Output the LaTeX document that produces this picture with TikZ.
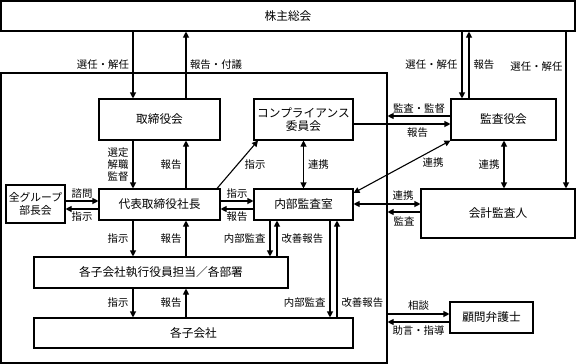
\documentclass[tikz,border=0pt]{standalone}
\usepackage{fontspec}
\setmainfont{Noto Sans CJK JP}
\usetikzlibrary{arrows.meta}

\begin{document}
\begin{tikzpicture}[
x=1pt, y=-1pt,
line width=1.1pt,
every node/.style={inner sep=0pt},
box/.style={draw, font=\fontsize{11.7}{13.5}\selectfont, align=center},
lbl/.style={font=\fontsize{10.4}{11.6}\selectfont, align=center},
arr/.style={-{Triangle[length=6pt,width=6pt]}},
darr/.style={{Triangle[length=6pt,width=6pt]}-{Triangle[length=6pt,width=6pt]}}
]
\useasboundingbox (0,0) rectangle (576,364);

% boxes
\node[box, minimum width=574pt, minimum height=30pt] (kabunushi) at (288,16) {株主総会};
\node[draw, minimum width=386pt, minimum height=290pt] (company) at (194,218) {};
\node[box, minimum width=121pt, minimum height=41pt] (torishimari) at (159.5,119.5) {取締役会};
\node[box, minimum width=99pt, minimum height=41pt] (compliance) at (303.5,119.5) {コンプライアンス\\委員会};
\node[box, minimum width=105pt, minimum height=41pt] (kansayaku) at (503.5,119.5) {監査役会};
\node[box, minimum width=121pt, minimum height=31pt] (daihyo) at (159.5,204.5) {代表取締役社長};
\node[box, minimum width=99pt, minimum height=31pt] (naibu) at (303.5,204.5) {内部監査室};
\node[box, font=\fontsize{10.8}{12.5}\selectfont, minimum width=59pt, minimum height=38pt] (group) at (35.5,204) {全グループ\\部長会};
\node[box, minimum width=154pt, minimum height=49pt] (kaikei) at (498,213.5) {会計監査人};
\node[box, minimum width=254pt, minimum height=31pt] (shikko) at (161,272.5) {各子会社執行役員担当／各部署};
\node[box, minimum width=319pt, minimum height=30pt] (kogaisha) at (193.5,333) {各子会社};
\node[box, minimum width=83pt, minimum height=31pt] (bengoshi) at (491.5,317.5) {顧問弁護士};

% shareholders
\draw[arr] (kabunushi.south -| 133,0) -- (torishimari.north -| 133,0)
  node[lbl, midway, left=3.5pt] (l-senin1) {選任・解任};
\draw[arr] (torishimari.north -| 186,0) -- (kabunushi.south -| 186,0)
  node[lbl, midway, right=3.5pt] (l-fugi) {報告・付議};
\draw[arr] (kabunushi.south -| 462,0) -- (kansayaku.north -| 462,0)
  node[lbl, midway, left=4pt] (l-senin2) {選任・解任};
\draw[arr] (kansayaku.north -| 469,0) -- (kabunushi.south -| 469,0)
  node[lbl, midway, right=4pt] (l-hokoku1) {報告};
\draw[arr] (kabunushi.south -| 566,0) -- (kaikei.north -| 566,0)
  node[lbl, pos=0.22, left=3pt] (l-senin3) {選任・解任};

% audit board
\draw[arr] (kansayaku.west |- 0,116) -- (company.east |- 0,116)
  node[lbl, midway, above=2pt] (l-kantoku) {監査・監督};
\draw[arr] (compliance.east |- 0,124) -- (kansayaku.west |- 0,124)
  node[lbl, pos=0.66, below=3pt] (l-hokoku2) {報告};
\draw[darr] (naibu.east |- 0,193) -- (kansayaku.south west);
\node[lbl] (l-renkei1) at (433,163) {連携};
\draw[darr] (kansayaku.south -| 504,0) -- (kaikei.north -| 504,0)
  node[lbl, midway, left=4pt] (l-renkei2) {連携};

% board and president
\draw[arr] (torishimari.south -| 133,0) -- (daihyo.north -| 133,0)
  node[lbl, midway, left=4pt] (l-sentei) {選定\\解職\\監督};
\draw[arr] (daihyo.north -| 186,0) -- (torishimari.south -| 186,0)
  node[lbl, midway, left=4pt] (l-hokoku3) {報告};
\draw[arr] (daihyo.north -| 217,0) -- (compliance.south -| 258,0);
\node[lbl] (l-shiji1) at (255,165) {指示};
\draw[darr] (compliance.south) -- (naibu.north)
  node[lbl, midway, right=4pt] (l-renkei3) {連携};

% president row
\draw[arr] (group.east |- 0,201) -- (daihyo.west |- 0,201)
  node[lbl, midway, above=2pt] (l-shimon) {諮問};
\draw[arr] (daihyo.west |- 0,209) -- (group.east |- 0,209)
  node[lbl, midway, below=2.5pt] (l-shiji2) {指示};
\draw[arr] (daihyo.east |- 0,201) -- (naibu.west |- 0,201)
  node[lbl, midway, above=2pt] (l-shiji3) {指示};
\draw[arr] (naibu.west |- 0,209) -- (daihyo.east |- 0,209)
  node[lbl, midway, below=2.5pt] (l-hokoku4) {報告};
\draw[darr] (naibu.east |- 0,204) -- (kaikei.west |- 0,204)
  node[lbl, pos=0.74, above=3pt] (l-renkei4) {連携};
\draw[arr] (kaikei.west |- 0,212) -- (company.east |- 0,212)
  node[lbl, midway, below=4pt] (l-kansa) {監査};

% down to departments
\draw[arr] (daihyo.south -| 133,0) -- (shikko.north -| 133,0)
  node[lbl, midway, left=4pt] (l-shiji4) {指示};
\draw[arr] (shikko.north -| 186,0) -- (daihyo.south -| 186,0)
  node[lbl, midway, left=4pt] (l-hokoku5) {報告};
\draw[arr] (naibu.south -| 270,0) -- (shikko.north -| 270,0)
  node[lbl, midway, left=4pt] (l-naibu1) {内部監査};
\draw[arr] (shikko.north -| 277,0) -- (naibu.south -| 277,0)
  node[lbl, midway, right=4pt] (l-kaizen1) {改善報告};

% subsidiaries
\draw[arr] (shikko.south -| 133,0) -- (kogaisha.north -| 133,0)
  node[lbl, midway, left=4pt] (l-shiji5) {指示};
\draw[arr] (kogaisha.north -| 186,0) -- (shikko.south -| 186,0)
  node[lbl, midway, left=4pt] (l-hokoku6) {報告};
\draw[arr] (naibu.south -| 330,0) -- (kogaisha.north -| 330,0)
  node[lbl, pos=0.85, left=4pt] (l-naibu2) {内部監査};
\draw[arr] (kogaisha.north -| 337,0) -- (naibu.south -| 337,0)
  node[lbl, pos=0.15, right=4pt] (l-kaizen2) {改善報告};

% lawyer
\draw[arr] (company.east |- 0,314) -- (bengoshi.west |- 0,314)
  node[lbl, midway, above=3pt] (l-sodan) {相談};
\draw[arr] (bengoshi.west |- 0,322) -- (company.east |- 0,322)
  node[lbl, midway, below=3pt] (l-jogen) {助言・指導};
\end{tikzpicture}
\end{document}
